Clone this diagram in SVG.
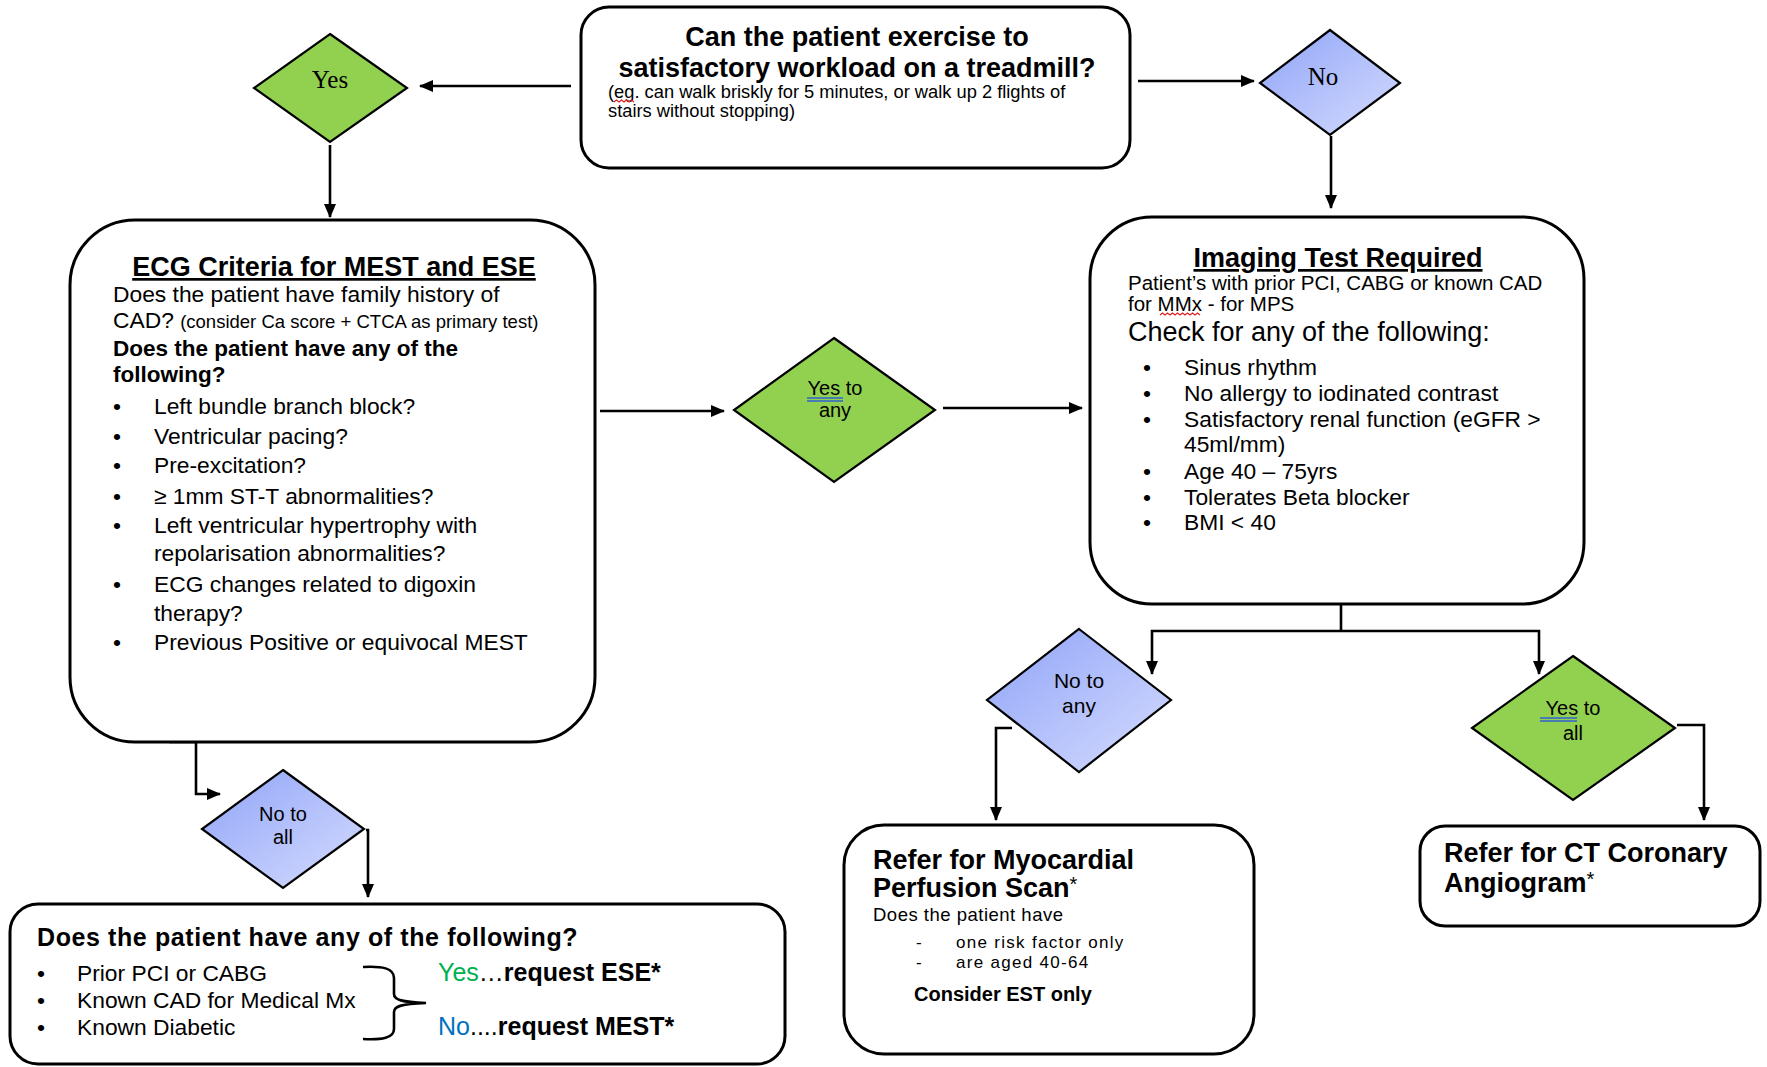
<svg xmlns="http://www.w3.org/2000/svg" width="1767" height="1067" viewBox="0 0 1767 1067">
<defs>
<linearGradient id="blueGrad" x1="0" y1="0" x2="1" y2="1">
<stop offset="0" stop-color="#8fa3f7"/>
<stop offset="1" stop-color="#d6ddff"/>
</linearGradient>
<marker id="arr" markerUnits="userSpaceOnUse" markerWidth="14" markerHeight="12" refX="13" refY="6" orient="auto">
<path d="M0,0 L14,6 L0,12 Z" fill="#000"/>
</marker>
<style>
.box{fill:#fff;stroke:#000;stroke-width:3}
.dg{fill:#92d050;stroke:#000;stroke-width:2.2}
.db{fill:url(#blueGrad);stroke:#000;stroke-width:2.2}
.ln{fill:none;stroke:#000;stroke-width:2.6}
.t{font-family:"Liberation Sans",Arial,sans-serif;fill:#000}
.b{font-weight:bold}
.s{font-family:"Liberation Serif","Times New Roman",serif;fill:#000}
.sq{fill:none;stroke:#e02020;stroke-width:1.2}
.bu{stroke:#3060d0;stroke-width:1.3}
</style>
</defs>

<g id="connectors">
<path class="ln" d="M571,86 H420" marker-end="url(#arr)"/>
<path class="ln" d="M330,145 V217" marker-end="url(#arr)"/>
<path class="ln" d="M1138,81 H1254" marker-end="url(#arr)"/>
<path class="ln" d="M1331,136 V208" marker-end="url(#arr)"/>
<path class="ln" d="M600,411 H724" marker-end="url(#arr)"/>
<path class="ln" d="M943,408 H1082" marker-end="url(#arr)"/>
<path class="ln" d="M1341,605 V631"/>
<path class="ln" d="M1341,631 H1152 V674" marker-end="url(#arr)"/>
<path class="ln" d="M1341,631 H1539 V674" marker-end="url(#arr)"/>
<path class="ln" d="M1012,728 H996 V820" marker-end="url(#arr)"/>
<path class="ln" d="M1677,725 H1704 V820" marker-end="url(#arr)"/>
<path class="ln" d="M169,742 H196 V794 H220" marker-end="url(#arr)"/>
<path class="ln" d="M366,830 H368 V897" marker-end="url(#arr)"/>
</g>

<g id="node-exercise">
<rect class="box" x="581" y="7" width="549" height="161" rx="28"/>
<text class="t b" x="857" y="46" font-size="27" text-anchor="middle">Can the patient exercise to</text>
<text class="t b" x="857" y="77" font-size="27" text-anchor="middle">satisfactory workload on a treadmill?</text>
<text class="t" x="608" y="98" font-size="18.3">(eg. can walk briskly for 5 minutes, or walk up 2 flights of</text>
<text class="t" x="608" y="117" font-size="18.3">stairs without stopping)</text>
<path class="sq" d="M614,102 l2.5,-2 l2.5,2 l2.5,-2 l2.5,2 l2.5,-2 l2.5,2 l2.5,-2 l2.5,2"/>
</g>

<g id="node-yes">
<polygon class="dg" points="330,34 407,88 330,142 254,88"/>
<text class="s" x="330" y="88" font-size="25" text-anchor="middle">Yes</text>
</g>

<g id="node-no">
<polygon class="db" points="1330,30 1400,83 1330,135 1260,83"/>
<text class="s" x="1323" y="85" font-size="25" text-anchor="middle">No</text>
</g>

<g id="node-ecg">
<rect class="box" x="70" y="220" width="525" height="522" rx="65"/>
<text class="t b" x="334" y="276" font-size="27" text-anchor="middle" text-decoration="underline">ECG Criteria for MEST and ESE</text>
<text class="t" x="113" y="302" font-size="22.8">Does the patient have family history of</text>
<text class="t" x="113" y="328" font-size="22.8">CAD? <tspan font-size="18.5">(consider Ca score + CTCA as primary test)</tspan></text>
<text class="t b" x="113" y="356" font-size="22.5">Does the patient have any of the</text>
<text class="t b" x="113" y="382" font-size="22.5">following?</text>
<g class="t" font-size="22.8">
<text x="113" y="414">•</text><text x="154" y="414">Left bundle branch block?</text>
<text x="113" y="444">•</text><text x="154" y="444">Ventricular pacing?</text>
<text x="113" y="473">•</text><text x="154" y="473">Pre-excitation?</text>
<text x="113" y="504">•</text><text x="154" y="504">≥ 1mm ST-T abnormalities?</text>
<text x="113" y="533">•</text><text x="154" y="533">Left ventricular hypertrophy with</text>
<text x="154" y="561">repolarisation abnormalities?</text>
<text x="113" y="592">•</text><text x="154" y="592">ECG changes related to digoxin</text>
<text x="154" y="621">therapy?</text>
<text x="113" y="650">•</text><text x="154" y="650">Previous Positive or equivocal MEST</text>
</g>
</g>

<g id="node-yes-any">
<polygon class="dg" points="834,338 935,410 834,482 734,410"/>
<text class="t" x="835" y="395" font-size="20" text-anchor="middle">Yes to</text>
<text class="t" x="835" y="417" font-size="20" text-anchor="middle">any</text>
<line class="bu" x1="807" y1="398" x2="843" y2="398"/>
<line class="bu" x1="807" y1="401" x2="843" y2="401"/>
</g>

<g id="node-imaging">
<rect class="box" x="1090" y="217" width="494" height="387" rx="62"/>
<text class="t b" x="1338" y="267" font-size="27" text-anchor="middle" text-decoration="underline">Imaging Test Required</text>
<text class="t" x="1128" y="290" font-size="20.5">Patient’s with prior PCI, CABG or known CAD</text>
<text class="t" x="1128" y="311" font-size="20.5">for MMx - for MPS</text>
<path class="sq" d="M1160,315 l2.5,-2 l2.5,2 l2.5,-2 l2.5,2 l2.5,-2 l2.5,2 l2.5,-2 l2.5,2 l2.5,-2 l2.5,2 l2.5,-2 l2.5,2 l2.5,-2 l2.5,2 l2.5,-2 l2.5,2"/>
<text class="t" x="1128" y="341" font-size="27">Check for any of the following:</text>
<g class="t" font-size="22.8">
<text x="1143" y="375">•</text><text x="1184" y="375">Sinus rhythm</text>
<text x="1143" y="401">•</text><text x="1184" y="401">No allergy to iodinated contrast</text>
<text x="1143" y="427">•</text><text x="1184" y="427">Satisfactory renal function (eGFR &gt;</text>
<text x="1184" y="452">45ml/mm)</text>
<text x="1143" y="479">•</text><text x="1184" y="479">Age 40 – 75yrs</text>
<text x="1143" y="505">•</text><text x="1184" y="505">Tolerates Beta blocker</text>
<text x="1143" y="530">•</text><text x="1184" y="530">BMI &lt; 40</text>
</g>
</g>

<g id="node-no-any">
<polygon class="db" points="1079,629 1171,700 1079,772 987,700"/>
<text class="t" x="1079" y="688" font-size="21" text-anchor="middle">No to</text>
<text class="t" x="1079" y="713" font-size="21" text-anchor="middle">any</text>
</g>

<g id="node-yes-all">
<polygon class="dg" points="1573,656 1675,728 1573,800 1472,728"/>
<text class="t" x="1573" y="715" font-size="20" text-anchor="middle">Yes to</text>
<text class="t" x="1573" y="740" font-size="20" text-anchor="middle">all</text>
<line class="bu" x1="1540" y1="718" x2="1577" y2="718"/>
<line class="bu" x1="1540" y1="721" x2="1577" y2="721"/>
</g>

<g id="node-mps">
<rect class="box" x="844" y="825" width="410" height="229" rx="40"/>
<text class="t b" x="873" y="869" font-size="27">Refer for Myocardial</text>
<text class="t b" x="873" y="897" font-size="27">Perfusion Scan<tspan font-weight="normal" font-size="20" dy="-6">*</tspan></text>
<text class="t" x="873" y="921" font-size="18.5" letter-spacing="0.5">Does the patient have</text>
<text class="t" x="916" y="948" font-size="17">-</text>
<text class="t" x="956" y="948" font-size="17" letter-spacing="1.3">one risk factor only</text>
<text class="t" x="916" y="967.5" font-size="17">-</text>
<text class="t" x="956" y="967.5" font-size="17" letter-spacing="1.3">are aged 40-64</text>
<text class="t b" x="914" y="1001" font-size="20">Consider EST only</text>
</g>

<g id="node-ct">
<rect class="box" x="1420" y="826" width="340" height="100" rx="25"/>
<text class="t b" x="1444" y="862" font-size="27">Refer for CT Coronary</text>
<text class="t b" x="1444" y="892" font-size="27">Angiogram<tspan font-weight="normal" font-size="20" dy="-6">*</tspan></text>
</g>

<g id="node-no-all">
<polygon class="db" points="283,770 364,829 283,888 202,829"/>
<text class="t" x="283" y="821" font-size="20" text-anchor="middle">No to</text>
<text class="t" x="283" y="844" font-size="20" text-anchor="middle">all</text>
</g>

<g id="node-following">
<rect class="box" x="10" y="904" width="775" height="160" rx="28"/>
<text class="t b" x="37" y="946" font-size="25" letter-spacing="0.6">Does the patient have any of the following?</text>
<g class="t" font-size="22.8">
<text x="37" y="981">•</text><text x="77" y="981">Prior PCI or CABG</text>
<text x="37" y="1008">•</text><text x="77" y="1008">Known CAD for Medical Mx</text>
<text x="37" y="1035">•</text><text x="77" y="1035">Known Diabetic</text>
</g>
<path class="ln" stroke-width="2" d="M363,967 C382,966 394,968 394,978 V994 C394,1000 402,1002 426,1003 C402,1004 394,1006 394,1012 V1029 C394,1038 382,1040 363,1039"/>
<text class="t" x="438" y="981" font-size="25"><tspan fill="#00b050">Yes</tspan>…<tspan font-weight="bold">request ESE*</tspan></text>
<text class="t" x="438" y="1035" font-size="25"><tspan fill="#0070c0">No</tspan>....<tspan font-weight="bold">request MEST*</tspan></text>
</g>
</svg>
